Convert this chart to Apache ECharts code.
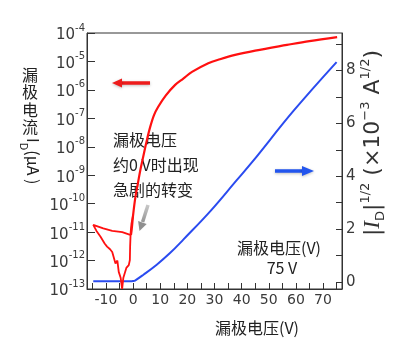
<!DOCTYPE html>
<html>
<head>
<meta charset="utf-8">
<script src="https://cdn.jsdelivr.net/npm/echarts@6/dist/echarts.min.js"></script>
<style>
html,body{margin:0;padding:0;background:#fff;}
#chart{width:411px;height:359px;}
</style>
</head>
<body>
<div id="chart"></div>
<script>
// ---- data ----
// Red main branch: drain current (A, log axis) vs drain voltage (V)
const redMainV = [75.2, 65, 56.7, 45, 37.6, 32, 27.7, 21.7, 18.5, 15.5, 12, 9.2, 7.7, 6.3, 5, 3.7, 2.7, 1.8, 0.8, 0, -0.5, -0.8];
const redMainI = [7.2e-5, 5.2e-5, 3.8e-5, 2.4e-5, 1.7e-5, 1.2e-5, 8.7e-6, 4.3e-6, 2.5e-6, 1.5e-6, 6.3e-7, 2.5e-7, 1.3e-7, 5.0e-8, 1.6e-8, 4.4e-9, 1.6e-9, 5.4e-10, 1.6e-10, 4.0e-11, 1.3e-11, 7.9e-12];
// Red low-voltage loop (sweep order)
const redLoopV = [-0.8, -1.0, -4, -7.7, -11, -14.7,
  -13.5, -12, -10.5, -9.6, -8.5, -7.7, -6.5, -5.8, -5.3, -4.6, -4.05, -3.6, -3.2, -2.5, -1.6, -1.2, -1.1, -0.9, -0.6, 0];
const redLoopI = [7.9e-12, 8.9e-12, 1.0e-11, 1.1e-11, 1.35e-11, 1.8e-11,
  1.1e-11, 6.9e-12, 4.0e-12, 3.1e-12, 2.5e-12, 2.0e-12, 7.9e-13, 1.0e-12, 4.0e-13, 2.5e-13, 1.0e-13, 2.5e-13, 2.7e-13, 5.5e-13, 6.9e-13, 1.05e-12, 3.2e-12, 1.0e-11, 2.0e-11, 4.0e-11];
// Blue: |I_D|^(1/2) (x10^-3 A^1/2) vs drain voltage
const blueV = [-14.7, -5, -1, 0, 0.7, 3.8, 8.7, 13.6, 18.5, 28.4, 38.2, 44, 59.1, 75];
const blueS = [0.02, 0.02, 0.02, 0.03, 0.05, 0.27, 0.65, 1.09, 1.6, 2.67, 3.85, 4.55, 6.47, 8.32];
// ticks / labels
const xTicks = [-15, -10, -5, 0, 5, 10, 15, 20, 25, 30, 35, 40, 45, 50, 55, 60, 65, 70, 75];
const xLabels = [-10, 0, 10, 20, 30, 40, 50, 60, 70];
const rightTicks = [0, 1, 2, 3, 4, 5, 6, 7, 8, 9];
const rightLabels = [0, 2, 4, 6, 8];

const redMain = redMainV.map((v, i) => [v, redMainI[i]]);
const redLoop = redLoopV.map((v, i) => [v, redLoopI[i]]);
const blueData = blueV.map((v, i) => [v, blueS[i]]);

const chart = echarts.init(document.getElementById('chart'), null, {renderer: 'canvas'});
const axisCol = '#333';
const labCol = '#3a3a3a';
const numFont = 'DejaVu Sans';
const cjk = '"Noto Sans CJK SC", "Noto Sans CJK JP", sans-serif';
const red = '#ff1010';

const option = {
  animation: false,
  backgroundColor: '#fff',
  grid: {left: 87, right: 69, top: 33, bottom: 70, show: true, borderColor: axisCol, borderWidth: 1, backgroundColor: 'transparent'},
  xAxis: {
    type: 'value', min: -17, max: 77,
    axisLine: {show: true, onZero: false, lineStyle: {color: axisCol, width: 1}},
    axisTick: {show: true, inside: true, length: 6, customValues: xTicks, lineStyle: {color: axisCol}},
    axisLabel: {customValues: xLabels, fontSize: 14, color: labCol, margin: 4, fontFamily: numFont},
    splitLine: {show: false}
  },
  yAxis: [
    {
      type: 'log', logBase: 10, min: 1e-13, max: 1e-4, splitNumber: 9, position: 'left',
      axisLine: {show: true, onZero: false, lineStyle: {color: axisCol, width: 1}},
      axisTick: {show: true, inside: true, length: 8, lineStyle: {color: axisCol}},
      minorTick: {show: false},
      splitLine: {show: false},
      axisLabel: {
        margin: 2, color: labCol, fontFamily: numFont, fontSize: 15,
        formatter: function (v) { return '{b|10}{s|' + Math.round(Math.log10(v)) + '}'; },
        rich: {
          b: {fontSize: 15, fontFamily: numFont, color: labCol, lineHeight: 20, verticalAlign: 'bottom'},
          s: {fontSize: 10, fontFamily: numFont, color: labCol, lineHeight: 20, verticalAlign: 'top'}
        }
      }
    },
    {
      type: 'value', min: -0.27, max: 9.42, position: 'right',
      axisLine: {show: true, onZero: false, lineStyle: {color: axisCol, width: 1}},
      axisTick: {show: true, inside: true, length: 6, customValues: rightTicks, lineStyle: {color: axisCol}},
      axisLabel: {customValues: rightLabels, fontSize: 15, color: labCol, margin: 4, fontFamily: numFont},
      splitLine: {show: false}
    }
  ],
  series: [
    {type: 'line', name: 'ID', xAxisIndex: 0, yAxisIndex: 0, data: redMain, showSymbol: false, symbol: 'none', smooth: 0.35,
      lineStyle: {color: red, width: 2.2}, z: 3},
    {type: 'line', name: 'ID loop', xAxisIndex: 0, yAxisIndex: 0, data: redLoop, showSymbol: false, symbol: 'none',
      lineStyle: {color: red, width: 1.8}, z: 3},
    {type: 'line', name: 'sqrtID', xAxisIndex: 0, yAxisIndex: 1, data: blueData, showSymbol: false, symbol: 'none', smooth: 0.4,
      lineStyle: {color: '#2a4bf0', width: 2}, z: 2}
  ],
  graphic: [
    // left axis title: stacked CJK + rotated latin
    {type: 'text', left: 22, top: 66, style: {text: '漏\n极\n电\n流', font: '16px ' + cjk, fill: '#222', lineHeight: 17.5}},
    {type: 'text', x: 30, y: 138, rotation: -Math.PI / 2,
      style: {x: 0, y: 0, text: '{m|I}{d|D}{m|(μA )}', align: 'left', verticalAlign: 'middle',
        rich: {
          m: {fontSize: 16, fontFamily: cjk, fill: '#222', lineHeight: 22, verticalAlign: 'top'},
          d: {fontSize: 11, fontFamily: cjk, fill: '#222', lineHeight: 22, verticalAlign: 'bottom'}
        }}},
    // right axis title
    {type: 'text', x: 373, y: 143, rotation: Math.PI / 2,
      style: {x: 0, y: 0, text: '{t||}{i|I}{d|D}{t||}{s|1/2}{t| (×10}{s|−3}{t| A}{s|1/2}{t|)}', align: 'center', verticalAlign: 'middle',
        rich: {
          t: {fontSize: 22, fontFamily: numFont, fill: '#333', lineHeight: 28, verticalAlign: 'middle'},
          i: {fontSize: 23, fontFamily: 'Liberation Serif', fontStyle: 'italic', fill: '#333', lineHeight: 28, verticalAlign: 'middle'},
          d: {fontSize: 13, fontFamily: numFont, fill: '#333', lineHeight: 28, verticalAlign: 'bottom'},
          s: {fontSize: 13, fontFamily: numFont, fill: '#333', lineHeight: 28, verticalAlign: 'top'}
        }}},
    // annotation text
    {type: 'text', left: 113, top: 127, style: {text: '漏极电压\n约0 V时出现\n急剧的转变', font: '16px ' + cjk, fill: '#222', lineHeight: 25}},
    {type: 'text', x: 279, y: 248, style: {text: '漏极电压(V)', font: '16px ' + cjk, fill: '#222', align: 'center', verticalAlign: 'middle'}},
    {type: 'text', x: 282, y: 268, style: {text: '75 V', font: '16px ' + cjk, fill: '#222', align: 'center', verticalAlign: 'middle'}},
    // x axis title
    {type: 'text', x: 257, y: 328, style: {text: '漏极电压(V)', font: '16px ' + cjk, fill: '#222', align: 'center', verticalAlign: 'middle'}},
    // red arrow (left)
    {type: 'line', shape: {x1: 121, y1: 83, x2: 150, y2: 83}, style: {stroke: '#ee1c1c', lineWidth: 3.5, shadowBlur: 3, shadowColor: 'rgba(0,0,0,0.25)', shadowOffsetY: 1}},
    {type: 'polygon', shape: {points: [[112, 83], [122, 78.5], [122, 87.5]]}, style: {fill: '#ee1c1c', shadowBlur: 3, shadowColor: 'rgba(0,0,0,0.25)', shadowOffsetY: 1}},
    // blue arrow (right)
    {type: 'line', shape: {x1: 275, y1: 171, x2: 303, y2: 171}, style: {stroke: '#2255ee', lineWidth: 3.5, shadowBlur: 3, shadowColor: 'rgba(0,0,0,0.25)', shadowOffsetY: 1}},
    {type: 'polygon', shape: {points: [[314, 171], [302, 166], [302, 176]]}, style: {fill: '#2255ee', shadowBlur: 3, shadowColor: 'rgba(0,0,0,0.25)', shadowOffsetY: 1}},
    // gray arrow (fading upward)
    {type: 'line', shape: {x1: 148, y1: 205, x2: 142.6, y2: 222},
      style: {stroke: new echarts.graphic.LinearGradient(0, 0, 0, 1, [{offset: 0, color: '#cfcfcf'}, {offset: 1, color: '#8f8f8f'}]), lineWidth: 3.5}},
    {type: 'polygon', shape: {points: [[139.5, 231], [146.7, 223.9], [138.1, 221.1]]}, style: {fill: '#8f8f8f'}}
  ]
};
chart.setOption(option);
</script>
</body>
</html>
